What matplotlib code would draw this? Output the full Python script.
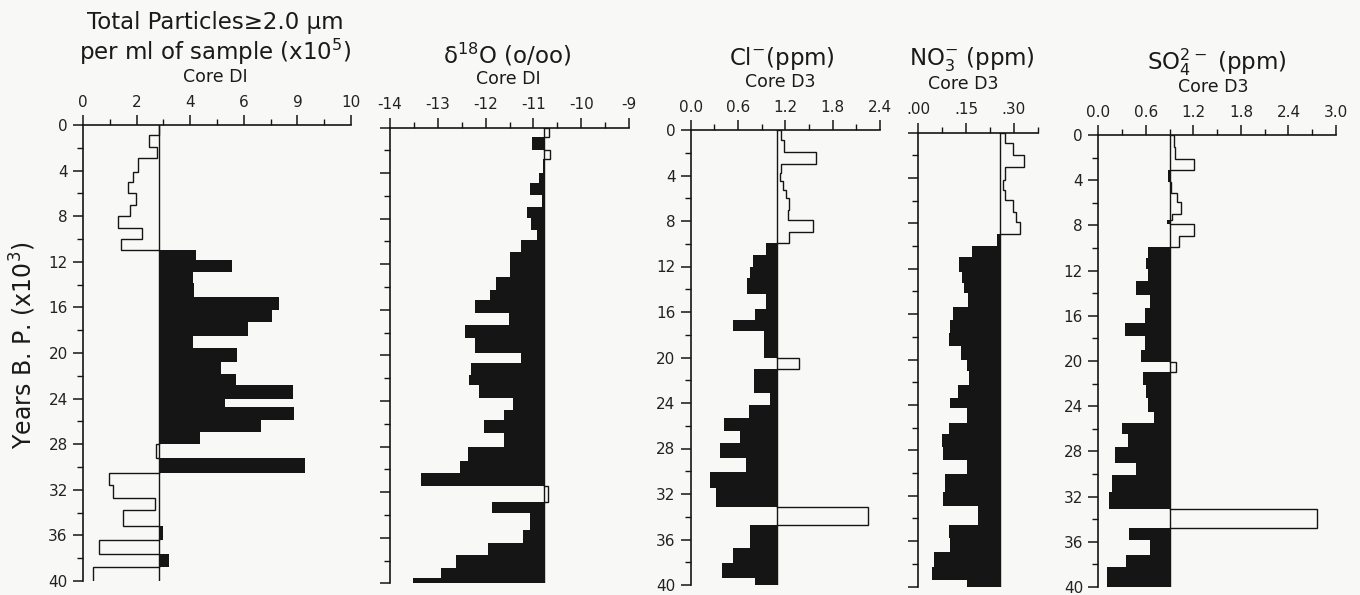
import numpy as np
import matplotlib
matplotlib.use("Agg")
import matplotlib.pyplot as plt

# depth boundaries (kyr B.P.) and values
dust_edges = [0, 0.9, 1.9, 2.9, 4.1, 5.0, 6.0, 7.0, 8.0, 9.0, 10.0, 11.0, 11.85, 12.9,
              13.9, 15.1, 16.2, 17.25, 18.55, 19.6, 20.75, 21.8, 22.8, 24.0, 24.7, 25.9,
              26.9, 28.0, 29.2, 30.5, 31.6, 32.75, 33.8, 35.2, 36.4, 37.6, 38.75, 40.0]
dust_vals = [2.82, 2.48, 2.75, 2.07, 1.85, 1.67, 1.98, 1.75, 1.32, 2.19, 1.41, 4.2, 5.57,
             4.09, 4.15, 7.33, 7.04, 6.14, 4.1, 5.73, 5.14, 5.7, 7.85, 5.3, 7.87, 6.63,
             4.37, 2.72, 8.28, 0.98, 1.13, 2.69, 1.48, 2.97, 0.61, 3.22, 0.36]
dust_base = 2.85

d18o_edges = [0, 0.8, 1.95, 2.8, 3.95, 4.9, 5.9, 6.95, 7.95, 9.0, 9.85, 10.9, 13.1, 14.25,
              15.15, 16.25, 17.3, 18.5, 19.75, 20.65, 21.7, 22.6, 23.7, 24.8, 25.7, 26.8,
              28.0, 29.3, 30.35, 31.5, 32.85, 33.85, 35.3, 36.5, 37.5, 38.7, 39.55, 40.0]
d18o_vals = [-10.67, -11.02, -10.65, -10.79, -10.88, -11.07, -10.82, -11.14, -11.04, -10.93,
             -11.25, -11.48, -11.78, -11.9, -12.22, -11.52, -12.43, -12.22, -11.25, -12.31,
             -12.34, -12.13, -11.43, -11.62, -12.03, -11.62, -12.36, -12.54, -13.36, -10.69,
             -11.87, -11.07, -11.22, -11.96, -12.61, -12.94, -13.51]
d18o_base = -10.77

cl_edges = [0, 0.9, 1.9, 3.0, 3.8, 4.5, 5.25, 6.0, 7.0, 7.9, 8.95, 9.95, 11.0, 12.0, 13.0,
            14.4, 15.7, 16.7, 17.7, 20.05, 21.05, 23.15, 24.2, 25.35, 26.5, 27.5, 28.85,
            30.1, 31.5, 33.1, 34.7, 36.75, 38.1, 39.4, 40.0]
cl_vals = [1.15, 1.18, 1.59, 1.15, 1.13, 1.17, 1.21, 1.24, 1.23, 1.55, 1.25, 0.96, 0.79,
           0.75, 0.71, 0.96, 0.82, 0.53, 0.93, 1.37, 0.80, 1.01, 0.74, 0.42, 0.62, 0.37,
           0.70, 0.24, 0.32, 2.25, 0.75, 0.53, 0.40, 0.82]
cl_base = 1.1

no3_edges = [0, 0.95, 2.0, 3.0, 4.2, 5.05, 5.95, 7.0, 7.85, 8.95, 10.0, 11.0, 12.25, 13.3,
             14.15, 15.35, 16.5, 17.7, 18.8, 20.05, 21.05, 22.25, 23.35, 24.3, 25.6, 26.55,
             27.7, 28.85, 30.05, 31.65, 32.95, 34.6, 35.75, 36.95, 38.25, 39.45, 40.0]
no3_vals = [0.272, 0.298, 0.332, 0.272, 0.265, 0.272, 0.298, 0.307, 0.319, 0.246, 0.168,
            0.129, 0.136, 0.143, 0.155, 0.108, 0.10, 0.095, 0.133, 0.152, 0.16, 0.126, 0.10,
            0.152, 0.097, 0.073, 0.078, 0.152, 0.084, 0.077, 0.188, 0.097, 0.10, 0.049,
            0.042, 0.154]
no3_base = 0.255

so4_edges = [0, 1.05, 2.15, 3.1, 4.15, 5.1, 5.9, 6.95, 7.5, 7.9, 8.95, 9.95, 10.9, 11.9,
             12.9, 14.15, 15.35, 16.6, 17.8, 19.0, 20.05, 20.95, 22.1, 23.3, 24.5, 25.5,
             26.5, 27.6, 29.0, 30.1, 31.55, 33.1, 34.8, 35.8, 37.2, 38.25, 40.0]
so4_vals = [0.95, 0.97, 1.21, 0.88, 0.92, 0.99, 1.04, 0.93, 0.87, 1.21, 1.02, 0.63, 0.60,
            0.63, 0.48, 0.65, 0.59, 0.34, 0.59, 0.54, 0.98, 0.56, 0.60, 0.63, 0.70, 0.30,
            0.38, 0.21, 0.48, 0.17, 0.13, 2.76, 0.39, 0.65, 0.35, 0.11]
so4_base = 0.9

dust_ticks = [0, 2, 4, 6, 8, 10]
dust_ticklabels = ["0", "2", "4", "6", "9", "10"]
d18o_ticks = [-14, -13, -12, -11, -10, -9]
d18o_ticklabels = ["-14", "-13", "-12", "-11", "-10", "-9"]
cl_ticks = [0.0, 0.6, 1.2, 1.8, 2.4]
cl_ticklabels = ["0.0", "0.6", "1.2", "1.8", "2.4"]
no3_ticks = [0.0, 0.15, 0.30]
no3_ticklabels = [".00", ".15", ".30"]
so4_ticks = [0.0, 0.6, 1.2, 1.8, 2.4, 3.0]
so4_ticklabels = ["0.0", "0.6", "1.2", "1.8", "2.4", "3.0"]
year_ticks = [0, 4, 8, 12, 16, 20, 24, 28, 32, 36, 40]

W, H = 1360, 595
BG = "#f8f8f6"
INK = "#151515"

plt.rcParams["font.family"] = "DejaVu Sans"
fig = plt.figure(figsize=(W / 100, H / 100), dpi=100, facecolor=BG)


def px_axes(x0, x1, y0, y1):
    return fig.add_axes([x0 / W, 1 - y1 / H, (x1 - x0) / W, (y1 - y0) / H])


def draw_profile(ax, edges, vals, base, filled_high):
    edges = np.asarray(edges)
    vals = np.asarray(vals)
    filled = vals > base if filled_high else vals < base
    # black bars
    for k in np.where(filled)[0]:
        ax.barh(edges[k], vals[k] - base, height=edges[k + 1] - edges[k], left=base,
                align="edge", color=INK, lw=0)
    # open bars, drawn as a step outline per run
    k = 0
    n = len(vals)
    while k < n:
        if filled[k]:
            k += 1
            continue
        j = k
        while j + 1 < n and not filled[j + 1]:
            j += 1
        xs, ys = [base], [edges[k]]
        for m in range(k, j + 1):
            xs += [vals[m], vals[m]]
            ys += [edges[m], edges[m + 1]]
        if j + 1 < n:  # profile bottom stays open
            xs.append(base)
            ys.append(edges[j + 1])
        ax.plot(xs, ys, color=INK, lw=1.0, solid_joinstyle="miter")
        k = j + 1
    ax.plot([base, base], [0, 40], color=INK, lw=1.0)


def style_axes(ax, xlim, ticks, ticklabels, minor, ylabels):
    ax.set_facecolor("none")
    ax.set_xlim(*xlim)
    ax.set_ylim(40, 0)
    for s in ["bottom", "right"]:
        ax.spines[s].set_visible(False)
    for s in ["top", "left"]:
        ax.spines[s].set_linewidth(1.2)
        ax.spines[s].set_color(INK)
    ax.xaxis.tick_top()
    ax.set_xticks(ticks)
    ax.set_xticklabels(ticklabels)
    ax.set_xticks(minor, minor=True)
    ax.set_yticks(year_ticks)
    ax.set_yticks(np.arange(2, 40, 4), minor=True)
    if ylabels:
        ax.set_yticklabels([str(t) for t in year_ticks])
    else:
        ax.set_yticklabels([])
    ax.tick_params(axis="both", which="major", length=7, width=1.1, color=INK,
                   labelsize=11, labelcolor="#222222", pad=4)
    ax.tick_params(axis="both", which="minor", length=4, width=1.0, color=INK)


# panel 1: particles
ax1 = px_axes(83, 351, 125, 581)
draw_profile(ax1, dust_edges, dust_vals, dust_base, True)
style_axes(ax1, (0, 10), dust_ticks, dust_ticklabels, [1, 3, 5, 7, 9], True)

# panel 2: delta 18O
ax2 = px_axes(390, 629, 127.5, 583.3)
draw_profile(ax2, d18o_edges, d18o_vals, d18o_base, False)
style_axes(ax2, (-14, -9), d18o_ticks, d18o_ticklabels, [-13.5, -12.5, -11.5, -10.5, -9.5], False)

# panel 3: chloride
ax3 = px_axes(690.7, 880, 130, 585)
draw_profile(ax3, cl_edges, cl_vals, cl_base, False)
style_axes(ax3, (0, 2.4), cl_ticks, cl_ticklabels, [0.3, 0.9, 1.5, 2.1], True)

# panel 4: nitrate
ax4 = px_axes(918.3, 1037.8, 132.5, 586.5)
draw_profile(ax4, no3_edges, no3_vals, no3_base, False)
style_axes(ax4, (0, 0.375), no3_ticks, no3_ticklabels, [0.075, 0.225, 0.375], False)

# panel 5: sulphate
ax5 = px_axes(1098.3, 1336, 135, 587)
draw_profile(ax5, so4_edges, so4_vals, so4_base, False)
style_axes(ax5, (0, 3.0), so4_ticks, so4_ticklabels, [0.3, 0.9, 1.5, 2.1, 2.7], True)


def ftext(x, y, s, size, **kw):
    fig.text(x / W, 1 - y / H, s, fontsize=size, ha="center", va="center",
             color="#1a1a1a", **kw)


ftext(215, 22, "Total Particles\u22652.0 \u00b5m", 16.5)
ftext(215, 52, "per ml of sample (x10$^5$)", 16.5)
ftext(215, 77, "Core DI", 12.5)
ftext(507, 55, "\u03b4$^{18}$O (o/oo)", 16.5)
ftext(508, 79, "Core DI", 12.5)
ftext(782, 58, "Cl$^{-}$(ppm)", 16.5)
ftext(780, 82, "Core D3", 12.5)
ftext(972, 60, "NO$_3^{-}$ (ppm)", 16.5)
ftext(963, 84, "Core D3", 12.5)
ftext(1217, 62, "SO$_4^{2-}$ (ppm)", 16.5)
ftext(1213, 87, "Core D3", 12.5)
ftext(23, 345, "Years B. P. (x10$^3$)", 17, rotation=90)

fig.savefig("out.png", dpi=100, facecolor=BG)
